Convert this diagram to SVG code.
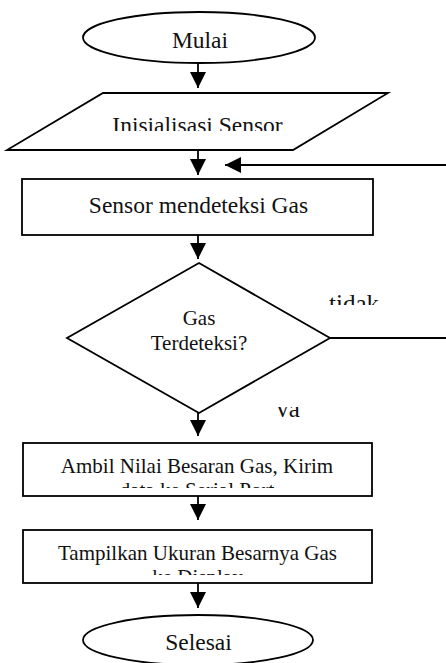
<svg xmlns="http://www.w3.org/2000/svg" width="446" height="663" viewBox="0 0 446 663">
<style>
.s{fill:#fff;stroke:#000;stroke-width:1.8}
.c{fill:none;stroke:#000;stroke-width:1.8}
.t{font-family:"Liberation Serif","Times New Roman",serif;fill:#111;text-anchor:middle}
.l{font-size:23.5px}
.m{font-size:21px}
.b{font-size:25px}
</style>
<defs>
<marker id="ah" markerUnits="userSpaceOnUse" markerWidth="16" markerHeight="16" viewBox="0 0 16 16" refX="16" refY="8" orient="auto">
<path d="M0,0 L16,8 L0,16 z" fill="#000"/>
</marker>
<clipPath id="cInit"><rect x="0" y="95" width="446" height="36"/></clipPath>
<clipPath id="cTidak"><rect x="300" y="280" width="120" height="25"/></clipPath>
<clipPath id="cYa"><rect x="260" y="407" width="60" height="10"/></clipPath>
<clipPath id="cBox1"><rect x="22" y="443" width="350" height="45"/></clipPath>
<clipPath id="cBox2"><rect x="22" y="530" width="350" height="45"/></clipPath>
</defs>
<rect width="446" height="663" fill="#fff"/>
<g id="connectors">
<line class="c" x1="198" y1="63" x2="198" y2="88" marker-end="url(#ah)"/>
<line class="c" x1="198" y1="150" x2="198" y2="175" marker-end="url(#ah)"/>
<line class="c" x1="446" y1="165" x2="225" y2="165" marker-end="url(#ah)"/>
<line class="c" x1="198" y1="235" x2="198" y2="259" marker-end="url(#ah)"/>
<line class="c" x1="330" y1="338" x2="446" y2="338"/>
<line class="c" x1="198" y1="413" x2="198" y2="436" marker-end="url(#ah)"/>
<line class="c" x1="198" y1="496" x2="198" y2="520" marker-end="url(#ah)"/>
<line class="c" x1="198" y1="583" x2="198" y2="608" marker-end="url(#ah)"/>
<g clip-path="url(#cTidak)"><text class="t b" x="354" y="312">tidak</text></g>
<g clip-path="url(#cYa)"><text class="t b" x="288" y="417">ya</text></g>
</g>
<g id="start">
<ellipse class="s" cx="199" cy="37.5" rx="116" ry="25.5"/>
<text class="t l" x="200" y="48">Mulai</text>
</g>
<g id="init">
<polygon class="s" points="103,93 388,93 293,150 7,150"/>
<g clip-path="url(#cInit)"><text class="t l" x="197.5" y="133">Inisialisasi Sensor</text></g>
</g>
<g id="detect">
<rect class="s" x="22" y="179" width="351" height="56"/>
<text class="t l" x="198.5" y="213">Sensor mendeteksi Gas</text>
</g>
<g id="decision">
<polygon class="s" points="199,263 330,338 199,413 67,338"/>
<text class="t m" x="199" y="325">Gas</text>
<text class="t m" x="199" y="350">Terdeteksi?</text>
</g>
<g id="send">
<rect class="s" x="23" y="443" width="349" height="53" stroke-width="2.2"/>
<g clip-path="url(#cBox1)">
<text class="t m" x="197" y="473">Ambil Nilai Besaran Gas, Kirim</text>
<text class="t m" x="197" y="497">data ke Serial Port</text>
</g>
</g>
<g id="display">
<rect class="s" x="23" y="530" width="349" height="53" stroke-width="2.2"/>
<g clip-path="url(#cBox2)">
<text class="t m" x="197.5" y="560">Tampilkan Ukuran Besarnya Gas</text>
<text class="t m" x="197.5" y="584">ke Display</text>
</g>
</g>
<g id="end">
<ellipse class="s" cx="198" cy="640" rx="115" ry="25"/>
<text class="t l" x="198.5" y="650">Selesai</text>
</g>
</svg>
